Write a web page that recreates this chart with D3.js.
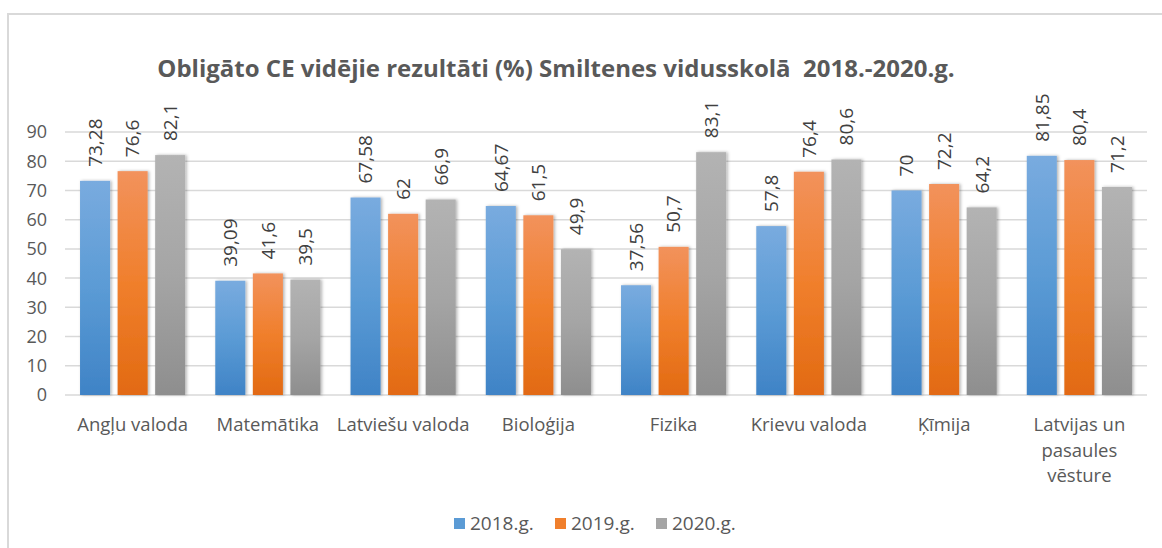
<!DOCTYPE html>
<html>
<head>
<meta charset="utf-8">
<script src="https://cdn.jsdelivr.net/npm/d3@7"></script>
<style>
  body { margin: 0; background: #fff; }
  text { font-family: "Open Sans", "Noto Sans", sans-serif; }
</style>
</head>
<body>
<svg id="chart" width="1162" height="548"></svg>
<script>
var categories = ["Angļu valoda", "Matemātika", "Latviešu valoda", "Bioloģija",
  "Fizika", "Krievu valoda", "Ķīmija", "Latvijas un pasaules vēsture"];
var seriesNames = ["2018.g.", "2019.g.", "2020.g."];
var values2018 = [73.28, 39.09, 67.58, 64.67, 37.56, 57.8, 70, 81.85];
var values2019 = [76.6, 41.6, 62, 61.5, 50.7, 76.4, 72.2, 80.4];
var values2020 = [82.1, 39.5, 66.9, 49.9, 83.1, 80.6, 64.2, 71.2];
var yTicks = [0, 10, 20, 30, 40, 50, 60, 70, 80, 90];
var titleText = "Obligāto CE vidējie rezultāti (%) Smiltenes vidusskolā  2018.-2020.g.";

document.addEventListener("DOMContentLoaded", function () {
  var svg = d3.select("#chart");
  var allValues = [values2018, values2019, values2020];

  // colours: [top, middle, bottom] of the gradient
  var colors = [
    ["#79abdf", "#5b9bd5", "#3f83c6"],
    ["#f2925c", "#f07f2c", "#e26a12"],
    ["#b3b3b3", "#a5a5a5", "#8e8e8e"]
  ];

  var defs = svg.append("defs");
  colors.forEach(function (c, i) {
    var g = defs.append("linearGradient")
      .attr("id", "grad" + i)
      .attr("x1", 0).attr("y1", 0).attr("x2", 0).attr("y2", 1);
    g.append("stop").attr("offset", "0%").attr("stop-color", c[0]);
    g.append("stop").attr("offset", "50%").attr("stop-color", c[1]);
    g.append("stop").attr("offset", "100%").attr("stop-color", c[2]);
  });
  var shadow = defs.append("filter").attr("id", "shadow")
    .attr("x", "-30%").attr("y", "-10%").attr("width", "160%").attr("height", "120%");
  shadow.append("feDropShadow")
    .attr("dx", 1.5).attr("dy", 0).attr("stdDeviation", 1.5)
    .attr("flood-color", "#000").attr("flood-opacity", 0.3);

  // chart border
  svg.append("rect")
    .attr("x", 8).attr("y", 14)
    .attr("width", 1200).attr("height", 600)
    .attr("fill", "none")
    .attr("stroke", "#d9d9d9")
    .attr("stroke-width", 2);

  var x0 = d3.scaleBand().domain(categories).range([65, 1147]).padding(0);
  var x1 = d3.scaleBand().domain(seriesNames).range([0, x0.bandwidth()])
    .paddingInner(0.2).paddingOuter(0.4);
  var y = d3.scaleLinear().domain([0, 90]).range([395, 132]);

  // gridlines
  svg.append("g")
    .selectAll("line")
    .data(yTicks)
    .enter()
    .append("line")
    .attr("x1", 65).attr("x2", 1147)
    .attr("y1", function (d) { return y(d); })
    .attr("y2", function (d) { return y(d); })
    .attr("stroke", "#d9d9d9")
    .attr("stroke-width", 1.5);

  // y tick labels
  svg.append("g")
    .selectAll("text")
    .data(yTicks)
    .enter()
    .append("text")
    .attr("x", 47)
    .attr("y", function (d) { return y(d); })
    .attr("dy", "0.36em")
    .attr("text-anchor", "end")
    .attr("font-size", 18)
    .attr("fill", "#595959")
    .text(function (d) { return d; });

  // bars
  var bars = [];
  categories.forEach(function (cat, ci) {
    seriesNames.forEach(function (s, si) {
      bars.push({ cat: cat, series: s, si: si, value: allValues[si][ci] });
    });
  });

  svg.append("g")
    .selectAll("rect")
    .data(bars)
    .enter()
    .append("rect")
    .attr("x", function (d) { return x0(d.cat) + x1(d.series); })
    .attr("y", function (d) { return y(d.value); })
    .attr("width", x1.bandwidth())
    .attr("height", function (d) { return y(0) - y(d.value); })
    .attr("fill", function (d) { return "url(#grad" + d.si + ")"; })
    .attr("filter", "url(#shadow)");

  // data labels
  svg.append("g")
    .selectAll("text")
    .data(bars)
    .enter()
    .append("text")
    .attr("transform", function (d) {
      var cx = x0(d.cat) + x1(d.series) + x1.bandwidth() / 2;
      return "translate(" + cx + "," + (y(d.value) - 14) + ") rotate(-90)";
    })
    .attr("dy", "0.36em")
    .attr("font-size", 19)
    .attr("fill", "#404040")
    .text(function (d) { return String(d.value).replace(".", ","); });

  // category labels, wrapped only when wider than the band
  var catLabels = svg.append("g")
    .selectAll("text")
    .data(categories)
    .enter()
    .append("text")
    .attr("x", function (d) { return x0(d) + x0.bandwidth() / 2; })
    .attr("y", 431)
    .attr("text-anchor", "middle")
    .attr("font-size", 18.5)
    .attr("fill", "#595959")
    .text(function (d) { return d; });

  catLabels.each(function (d) {
    var t = d3.select(this);
    if (this.getComputedTextLength() <= x0.bandwidth() + 4) return;
    var words = d.split(" ");
    var lines = [];
    var line = [];
    t.text(null);
    var probe = t.append("tspan");
    words.forEach(function (w) {
      line.push(w);
      probe.text(line.join(" "));
      if (probe.node().getComputedTextLength() > x0.bandwidth() - 20 && line.length > 1) {
        line.pop();
        lines.push(line.join(" "));
        line = [w];
      }
    });
    lines.push(line.join(" "));
    probe.remove();
    var cx = t.attr("x");
    lines.forEach(function (l, i) {
      t.append("tspan")
        .attr("x", cx)
        .attr("dy", i === 0 ? 0 : 25.5)
        .text(l);
    });
  });

  // title
  svg.append("text")
    .attr("x", 556)
    .attr("y", 77)
    .attr("text-anchor", "middle")
    .attr("font-size", 24)
    .attr("font-weight", "bold")
    .attr("fill", "#595959")
    .style("white-space", "pre")
    .text(titleText);

  // legend
  var legend = svg.append("g")
    .selectAll("g")
    .data(seriesNames)
    .enter()
    .append("g")
    .attr("transform", function (d, i) { return "translate(" + (454 + i * 101) + ",518)"; });

  legend.append("rect")
    .attr("width", 11).attr("height", 11)
    .attr("fill", function (d, i) { return colors[i][1]; });

  legend.append("text")
    .attr("x", 16)
    .attr("y", 5.5)
    .attr("dy", "0.36em")
    .attr("font-size", 19)
    .attr("fill", "#595959")
    .text(function (d) { return d; });
});
</script>
</body>
</html>
